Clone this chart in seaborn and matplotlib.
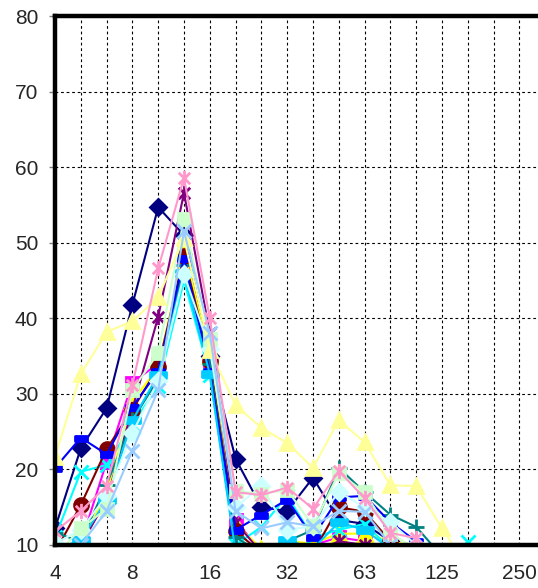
import numpy as np
import pandas as pd
import matplotlib
matplotlib.use("Agg")
import matplotlib.pyplot as plt
import seaborn as sns
from matplotlib.path import Path

# ---------------- data ----------------
sizes = ["4", "5", "6.3", "8", "10", "12.5", "16", "20", "25", "32",
         "40", "50", "63", "80", "100", "125", "160", "200", "250"]

s_navy    = [12.2, 22.8, 28.1, 41.8, 54.7, 51.0, 35.0, 21.4, 15.0, 14.5, 18.9, 13.3, 12.8, 10.5, 9.0, 7.0, 5.0, 4.0, 3.0]
s_magenta = [9.0, 10.2, 21.0, 31.5, 34.0, 46.6, 34.0, 13.3, 9.0, 9.5, 10.0, 11.0, 10.5, 9.5, 8.5, 7.0, 5.0, 4.0, 3.0]
s_yellow  = [8.0, 10.0, 17.0, 29.0, 33.5, 49.0, 35.0, 12.8, 9.5, 10.5, 10.2, 11.5, 11.5, 10.5, 9.8, 7.5, 5.0, 4.0, 3.0]
s_cyan    = [11.0, 19.7, 20.6, 26.0, 31.0, 45.0, 32.5, 10.0, 12.4, 16.5, 11.0, 12.0, 12.8, 9.5, 9.0, 8.0, 10.4, 5.0, 3.0]
s_purple  = [8.0, 10.0, 16.0, 28.0, 40.2, 56.6, 38.0, 13.0, 9.0, 9.5, 9.0, 10.5, 10.0, 9.0, 8.0, 6.5, 5.0, 4.0, 3.0]
s_maroon  = [9.0, 15.3, 22.7, 27.9, 33.5, 48.2, 34.3, 11.8, 9.0, 10.0, 9.0, 15.0, 14.4, 10.5, 9.0, 7.0, 5.0, 4.0, 3.0]
s_teal    = [11.6, 10.5, 18.0, 26.5, 32.0, 47.0, 34.0, 11.0, 9.0, 10.5, 12.0, 20.2, 17.0, 14.0, 12.4, 8.5, 5.0, 4.0, 3.0]
s_blue    = [20.2, 24.2, 22.0, 28.3, 33.0, 48.0, 33.0, 12.0, 14.0, 16.0, 11.0, 16.3, 16.5, 13.0, 10.5, 8.0, 5.0, 4.0, 3.0]
s_sky     = [9.5, 10.6, 16.0, 26.5, 32.5, 46.0, 32.6, 9.0, 8.0, 10.7, 9.5, 13.0, 12.0, 9.5, 8.0, 6.5, 5.0, 4.0, 3.0]
s_turq    = [10.2, 12.0, 16.5, 24.8, 31.7, 45.8, 36.0, 15.0, 17.8, 12.0, 12.5, 17.0, 15.0, 13.0, 10.0, 7.5, 5.0, 4.0, 3.0]
s_lgreen  = [8.5, 12.2, 14.8, 30.5, 35.4, 53.2, 37.2, 17.1, 16.8, 17.3, 12.5, 19.5, 17.0, 11.5, 9.5, 7.5, 5.0, 4.0, 3.0]
s_lyellow = [21.7, 32.6, 38.2, 39.6, 42.8, 50.6, 35.8, 28.5, 25.5, 23.5, 20.2, 26.5, 23.6, 17.9, 17.8, 12.2, 7.0, 5.0, 3.0]
s_pblue   = [9.0, 10.0, 14.5, 22.5, 30.5, 51.5, 38.0, 14.5, 12.2, 13.0, 12.5, 14.5, 14.4, 10.0, 9.0, 7.0, 5.0, 4.0, 3.0]
s_rose    = [11.8, 14.5, 17.8, 31.2, 46.6, 58.6, 40.0, 17.0, 16.6, 17.6, 14.8, 19.8, 16.2, 11.6, 10.9, 8.0, 5.0, 4.0, 3.0]

series_values = [s_navy, s_magenta, s_yellow, s_cyan, s_purple, s_maroon, s_teal,
                 s_blue, s_sky, s_turq, s_lgreen, s_lyellow, s_pblue, s_rose]
series_colors = ["#000080", "#FF00FF", "#FFFF00", "#00FFFF", "#800080", "#800000", "#008080",
                 "#0000FF", "#00CCFF", "#CCFFFF", "#CCFFCC", "#FFFF99", "#99CCFF", "#FF99CC"]
tick_every = 3
y_ticks = [10, 20, 30, 40, 50, 60, 70, 80]

# ---------------- marker shapes ----------------
star = Path([(0, -1), (0, 1), (-0.75, -0.75), (0.75, 0.75), (-0.75, 0.75), (0.75, -0.75)],
            [Path.MOVETO, Path.LINETO, Path.MOVETO, Path.LINETO, Path.MOVETO, Path.LINETO])
dash = Path([(-1, -0.4), (1, -0.4), (1, 0.4), (-1, 0.4), (-1, -0.4)],
            [Path.MOVETO, Path.LINETO, Path.LINETO, Path.LINETO, Path.CLOSEPOLY])
marker_cycle = [("D", 8.5), ("s", 9), ("^", 10), ("x", 10), (star, 11), ("o", 10), ("+", 11), (dash, 9),
                (dash, 11)]

# ---------------- style ----------------
sns.set_style("white")
plt.rcParams["font.family"] = ["Liberation Sans", "DejaVu Sans"]

fig = plt.figure(figsize=(5.38, 5.88), dpi=100)
ax = fig.add_axes([55 / 538, 43 / 588, 490 / 538, 529 / 588])

xpos = np.arange(len(sizes))
for i, (vals, col) in enumerate(zip(series_values, series_colors)):
    mk, ms = marker_cycle[i] if i < 9 else marker_cycle[i - 9]
    df = pd.DataFrame({"x": xpos, "y": vals})
    sns.lineplot(data=df, x="x", y="y", ax=ax, color=col, linewidth=1.5,
                 marker=mk, markersize=ms, markerfacecolor=col, markeredgecolor=col,
                 markeredgewidth=2, legend=False, zorder=2 + i * 0.01)

ax.set_xlim(0, 490 / 25.8)
ax.set_ylim(10, 80)
ax.set_xticks(xpos[::tick_every])
ax.set_xticklabels(sizes[::tick_every])
ax.set_xticks(xpos, minor=True)
ax.set_yticks(y_ticks)
ax.set_yticklabels([str(v) for v in y_ticks])
ax.set_xlabel("")
ax.set_ylabel("")

ax.grid(True, which="both", axis="x", color="black", linestyle=(0, (2.5, 2.5)), linewidth=0.8)
ax.grid(True, which="major", axis="y", color="black", linestyle=(0, (2.5, 2.5)), linewidth=0.8)
ax.set_axisbelow(True)

for side in ["left", "top", "bottom"]:
    ax.spines[side].set_visible(True)
    ax.spines[side].set_color("black")
    ax.spines[side].set_linewidth(3.2)
    ax.spines[side].set_zorder(5)
ax.spines["right"].set_visible(False)

ax.tick_params(axis="x", which="both", length=0, pad=14, labelsize=15)
ax.tick_params(axis="y", which="major", length=4, width=1, direction="out", pad=8,
               labelsize=15, left=True, color="gray")

fig.savefig("out.png", dpi=100, facecolor="white")
